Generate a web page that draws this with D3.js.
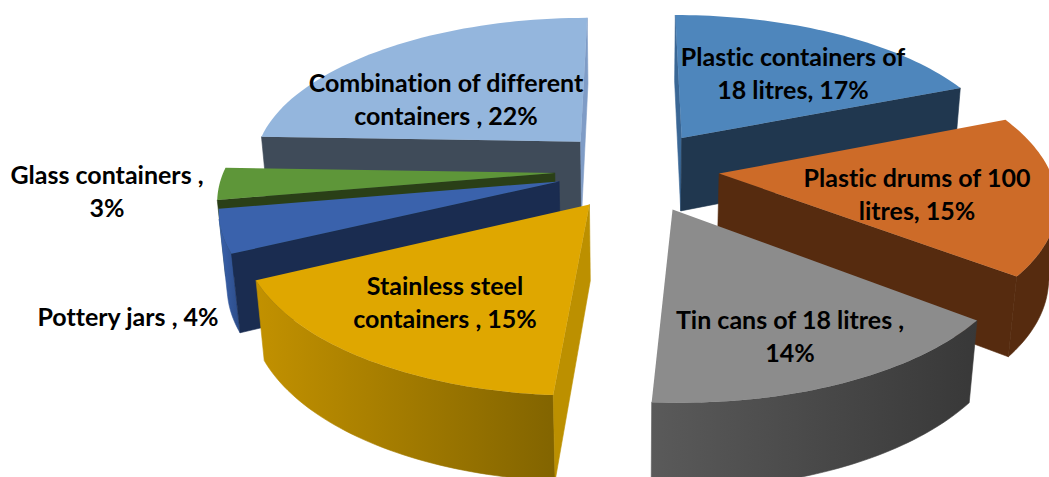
<!DOCTYPE html>
<html><head><meta charset="utf-8">
<script src="https://cdn.jsdelivr.net/npm/d3@7"></script>
<style>html,body{margin:0;padding:0;background:#fff;overflow:hidden}svg{display:block}text{font-family:Lato,"Open Sans",sans-serif;font-weight:700;fill:#000;font-variant-ligatures:none}</style>
</head><body>
<svg id="c" width="1049" height="477"></svg>
<script>
const categories = ["Plastic containers of 18 litres","Plastic drums of 100 litres","Tin cans of 18 litres","Stainless steel containers","Pottery jars","Glass containers","Combination of different containers"];
const values = [17,15,14,15,4,3,22];
const labelLines = [["Plastic containers of","18 litres, 17%"],["Plastic drums of 100","litres, 15%"],["Tin cans of 18 litres ,","14%"],["Stainless steel","containers , 15%"],["Pottery jars , 4%"],["Glass containers ,","3%"],["Combination of different","containers , 22%"]];
const topColors = ["#4E86BC","#CD6B28","#8C8C8C","#DFA700","#3A62AC","#5E9639","#94B6DD"];
const startCutColors = ["#3A6795","#562B0F","#3a3a3a","#BC9000","#1A2C50","#2A3F17","#3F4B59"];
const endCutColors = ["#20374F","#562B0F","#3a3a3a","#BC9000","#1A2C50","#2A3F17","#7F9CC6"];
const wallLeft = ["#20374F","#562B0F","#5A5A5A","#C29100","#3A62AC","#2A3F17","#3F4B59"];
const wallRight = ["#20374F","#562B0F","#383838","#826400","#2C4C88","#2A3F17","#3F4B59"];

// layout
const explode = [0.258,0.265,0.29,0.265,0.235,0.235,0.241];
const explodeTurnDeg = [3,0,0,-6,-4,-4,2.4];
const paintOrder = [6,0,5,4,1,2,3];
const P = {cx:632, cy:168, R:330, k:150, D:6.6, h:76, zc:0.02};
const labelPos = [[793,66],[917,187],[790,329],[445,295],[128,326],[107,184],[446,92]];
const lineGap = 33, fontSize = 25;

const svg = d3.select("#c");
const defs = svg.append("defs");
const rad = d3.scaleLinear().domain([0,1]).range([0,P.R]);
function project(x,d,z){ const w = 1 + d/P.D + z*P.zc; return [P.cx + rad(x)/w, P.cy + (-P.k*d + P.h*z)/w]; }
function area(pts){ return -d3.polygonArea(pts); }
const line = d3.line().curve(d3.curveLinear);
const arcs = d3.pie().sort(null).value(d=>d).startAngle(0).endAngle(2*Math.PI)(values);

paintOrder.forEach(i=>{
  const a = arcs[i], mid=(a.startAngle+a.endAngle)/2 + explodeTurnDeg[i]*Math.PI/180;
  const ox = explode[i]*Math.sin(mid), od = explode[i]*Math.cos(mid);
  const pt = (ang,r,z)=>project(ox+r*Math.sin(ang), od+r*Math.cos(ang), z);
  const n = 48, angs = d3.range(n+1).map(j=>a.startAngle+(a.endAngle-a.startAngle)*j/n);
  const g = svg.append("g").attr("class","slice");
  const vis = [];
  for(let j=0;j<n;j++){
    const q=[pt(angs[j],1,0),pt(angs[j+1],1,0),pt(angs[j+1],1,1),pt(angs[j],1,1)];
    if(area(q)<0) vis.push(j);
  }
  if(vis.length){
    const seq = d3.range(vis[0],vis[vis.length-1]+2).map(j=>angs[j]);
    const poly = seq.map(t=>pt(t,1,0)).concat(seq.slice().reverse().map(t=>pt(t,1,1)));
    const xs = poly.map(p=>p[0]);
    const id="wall"+i;
    const gr=defs.append("linearGradient").attr("id",id).attr("gradientUnits","userSpaceOnUse")
      .attr("x1",d3.min(xs)).attr("x2",d3.max(xs)).attr("y1",0).attr("y2",0);
    gr.append("stop").attr("offset",0).attr("stop-color",wallLeft[i]);
    gr.append("stop").attr("offset",1).attr("stop-color",wallRight[i]);
    g.append("path").attr("d",line(poly)+"Z").attr("fill",`url(#${id})`).attr("stroke",`url(#${id})`).attr("stroke-width",0.6);
  }
  [[a.startAngle,startCutColors[i],-1],[a.endAngle,endCutColors[i],1]].forEach(([t,col,sgn])=>{
    const q=[pt(0,0,0),pt(t,1,0),pt(t,1,1),pt(0,0,1)];
    if(area(q)*sgn<0) return;
    g.append("path").attr("d",line(q)+"Z").attr("fill",col).attr("stroke",col).attr("stroke-width",0.6);
  });
  const top=[pt(0,0,0)].concat(angs.map(t=>pt(t,1,0)));
  g.append("path").attr("d",line(top)+"Z").attr("fill",topColors[i]);
});

labelLines.forEach((ls,i)=>{
  const t=svg.append("text").attr("text-anchor","middle").attr("font-size",fontSize);
  ls.forEach((s,j)=>t.append("tspan").attr("x",labelPos[i][0]).attr("y",labelPos[i][1]+j*lineGap).text(s));
});
</script>
</body></html>
